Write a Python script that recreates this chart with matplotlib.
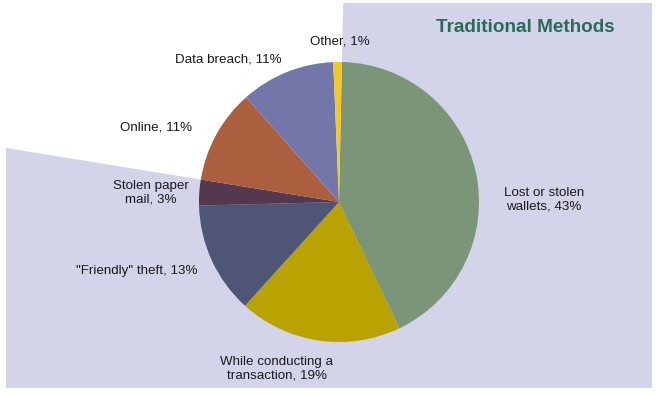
import numpy as np
import matplotlib
matplotlib.use("Agg")
import matplotlib.pyplot as plt
from matplotlib.patches import Polygon

categories = ["Lost or stolen\nwallets", "While conducting a\ntransaction", "\"Friendly\" theft",
              "Stolen paper\nmail", "Online", "Data breach", "Other"]
values = [43, 19, 13, 3, 11, 11, 1]
colors = ["#7b9579", "#b8a300", "#4e5575", "#54384f", "#ac5f3e", "#7276a8", "#f2c82a"]

# label centres in pixels from the top-left corner
label_pos = [(544, 200), (277, 369), (137, 271), (151, 193), (156, 127), (228, 60), (340, 41)]

W, H = 657, 395
cx, cy, r = 339, H - 202, 140
start = 88.8
n_traditional = 4   # first four slices are the "traditional" ones

fig = plt.figure(figsize=(W / 100, H / 100), dpi=100)
ax = fig.add_axes([0, 0, 1, 1])

wedges, _ = ax.pie(values, colors=colors, startangle=start, counterclock=False,
                   center=(cx, cy), radius=r, frame=True,
                   wedgeprops=dict(linewidth=0))

# lavender background behind the traditional slices, bounded by wedge edges
frac = np.cumsum(values) / np.sum(values)
a_end = np.deg2rad(start - 360 * frac[n_traditional - 1])
a_top = np.deg2rad(start)
top_y, left_x, right_x, bot_y = H - 3, 6, 652, H - 388
top_x = cx + (top_y - cy) / np.tan(a_top)
left_y = cy + (left_x - cx) * np.tan(a_end)
bg = Polygon([(cx, cy), (top_x, top_y), (right_x, top_y), (right_x, bot_y),
              (left_x, bot_y), (left_x, left_y)], closed=True,
             facecolor="#d3d4ea", edgecolor="none", zorder=0)
ax.add_patch(bg)

for name, v, (px, py) in zip(categories, values, label_pos):
    ax.text(px, H - py, f"{name}, {v}%", ha="center", va="center", fontsize=9.6,
            family="Liberation Sans", color="#1a1a1a", linespacing=1.15)

ax.text(525, H - 28, "Traditional Methods", ha="center", va="center", fontsize=13.6,
        fontweight="bold", family="Liberation Sans", color="#2b6b55")

ax.set_xlim(0, W)
ax.set_ylim(0, H)
ax.set_aspect("equal")
ax.axis("off")

fig.savefig("out.png", dpi=100)
